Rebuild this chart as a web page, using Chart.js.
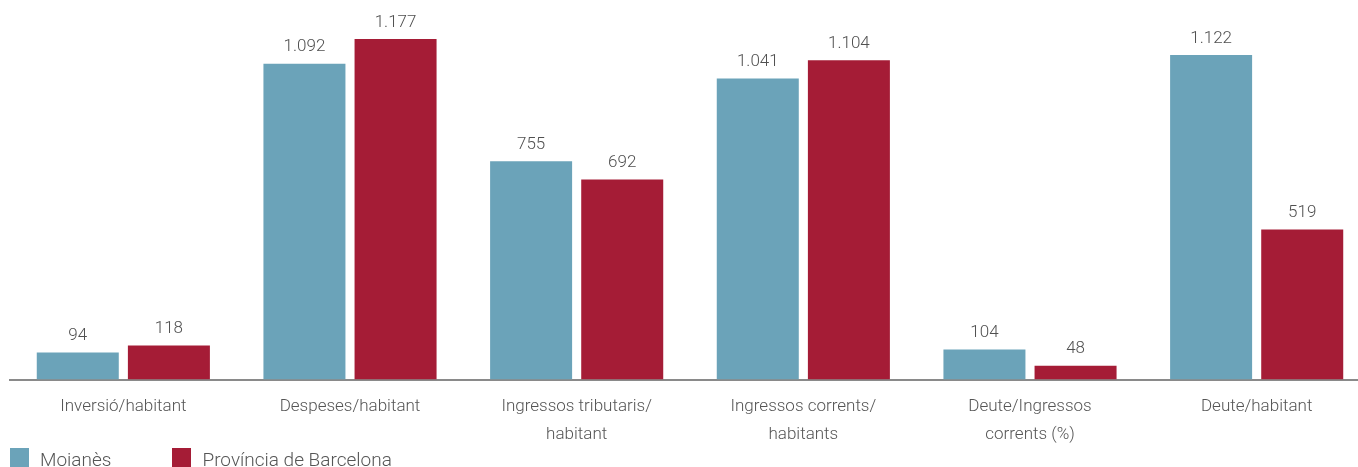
<!DOCTYPE html>
<html>
<head>
<meta charset="utf-8">
<script src="https://cdn.jsdelivr.net/npm/chart.js@4"></script>
<style>
    html, body { margin: 0; padding: 0; background: #fff; overflow: hidden; }
    #wrap { position: relative; width: 1370px; height: 467px; }
    #legend { position: absolute; left: 10px; top: 448px; font-family: Roboto, sans-serif; font-weight: 300; font-size: 19px; color: #555; white-space: nowrap; }
    #legend span.item { display: inline-block; margin-right: 61px; }
    #legend span.box { display: inline-block; width: 19px; height: 19px; vertical-align: top; margin-right: 11px; }
</style>
</head>
<body>
<div id="wrap">
    <canvas id="chart"></canvas>
    <div id="legend"></div>
</div>
<script>
// Data
const categories = [
    'Inversió/habitant',
    'Despeses/habitant',
    ['Ingressos tributaris/', 'habitant'],
    ['Ingressos corrents/', 'habitants'],
    ['Deute/Ingressos', 'corrents (%)'],
    'Deute/habitant'
];
const moianes = [94, 1092, 755, 1041, 104, 1122];
const barcelona = [118, 1177, 692, 1104, 48, 519];
const seriesNames = ['Moianès', 'Província de Barcelona'];
const seriesColors = ['#6ba3b9', '#a51c36'];

// 1.177 style number format
const fmt = v => v.toLocaleString('de-DE');

// Value labels above each bar
const valueLabels = {
    id: 'valueLabels',
    afterDatasetsDraw(chart) {
        const c = chart.ctx;
        c.save();
        c.font = '300 17px Roboto, sans-serif';
        c.fillStyle = '#505050';
        c.textAlign = 'center';
        c.textBaseline = 'bottom';
        chart.data.datasets.forEach((ds, i) => {
            chart.getDatasetMeta(i).data.forEach((bar, j) => {
                c.fillText(fmt(ds.data[j]), bar.x, bar.y - 8);
            });
        });
        c.restore();
    }
};

const chart = new Chart(document.getElementById('chart'), {
    type: 'bar',
    data: {
        labels: categories,
        datasets: [
            { label: seriesNames[0], data: moianes, backgroundColor: seriesColors[0] },
            { label: seriesNames[1], data: barcelona, backgroundColor: seriesColors[1] }
        ]
    },
    options: {
        responsive: true,
        maintainAspectRatio: false,
        animation: false,
        categoryPercentage: 0.804,
        barPercentage: 0.9,
        layout: { padding: { top: 18, left: 10, right: 0, bottom: 5 } },
        plugins: {
            legend: { display: false },
            tooltip: { enabled: false }
        },
        scales: {
            x: {
                grid: { display: false, drawTicks: false },
                border: { color: '#8a8a8a', width: 2 },
                ticks: {
                    padding: 14,
                    color: '#555',
                    maxRotation: 0,
                    autoSkip: false,
                    font: { family: 'Roboto, sans-serif', size: 17, weight: 300, lineHeight: 1.6 }
                }
            },
            y: {
                display: false,
                min: 0,
                max: 1250
            }
        }
    },
    plugins: [valueLabels]
});

// Legend
document.getElementById('legend').innerHTML = seriesNames.map((n, i) =>
    `<span class="item"><span class="box" style="background:${seriesColors[i]}"></span>${n}</span>`
).join('');
</script>
</body>
</html>
